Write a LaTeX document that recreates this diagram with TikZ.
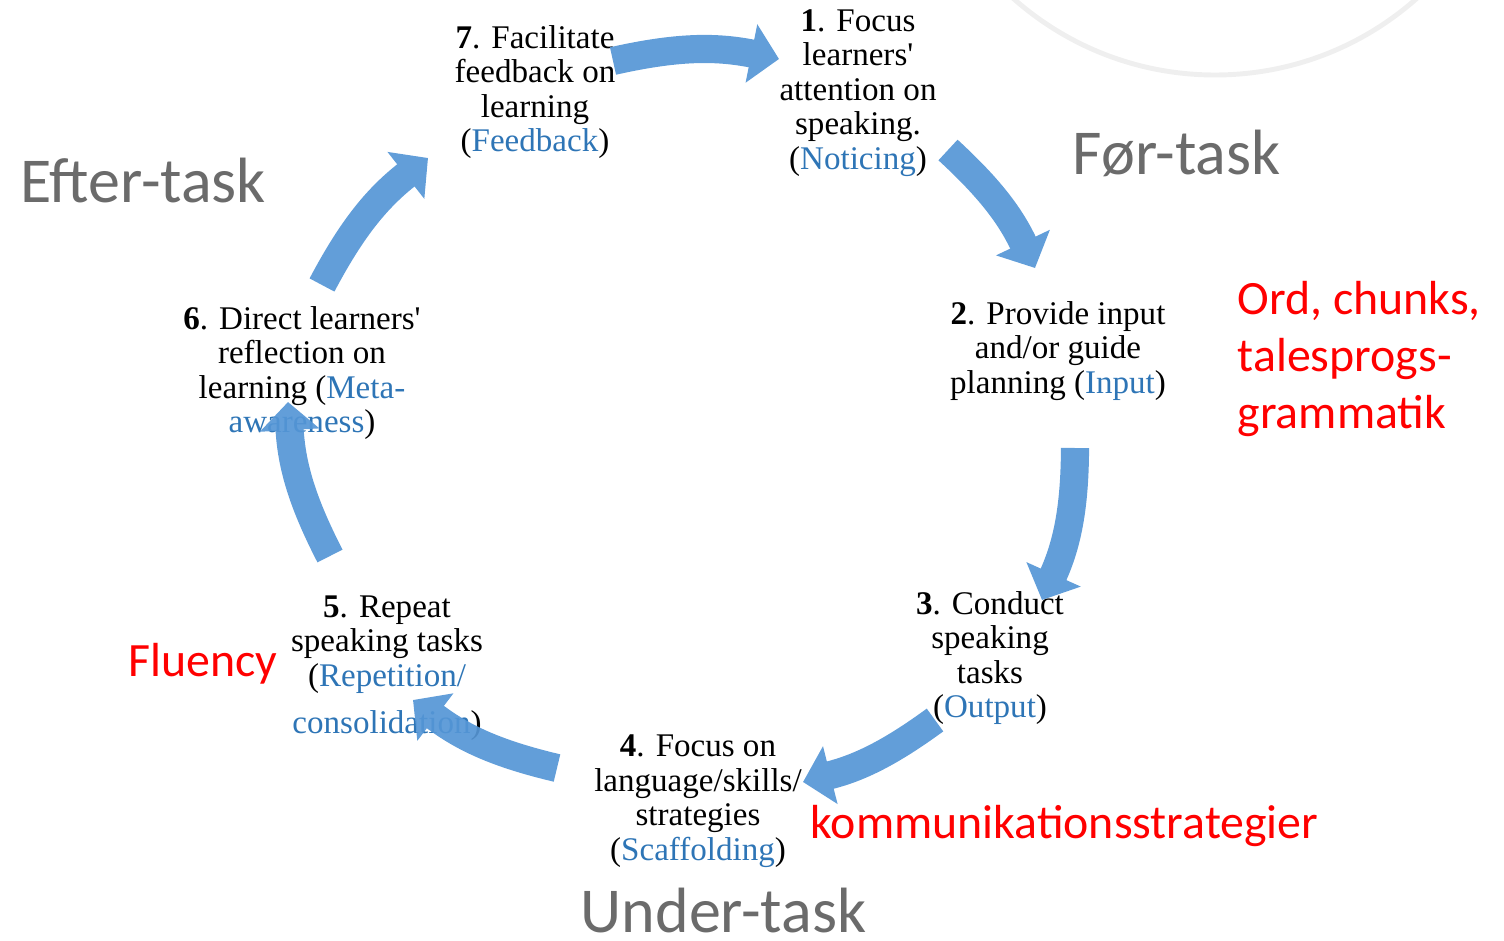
\documentclass[tikz,border=0pt]{standalone}
\usepackage{fontspec}
\usetikzlibrary{arrows.meta}
\newfontfamily\stepFont{Liberation Serif}
\newfontfamily\slideFont{Carlito}
\newcommand{\arrowOpacity}[0]{0.92}
\newcommand{\taskLabel}[1]{\textcolor{stepblue}{#1}}
\definecolor{stepblue}{HTML}{2E75B6}
\definecolor{arrowblue}{HTML}{5596D6}
\definecolor{phasegray}{HTML}{6B6B6B}
\definecolor{ringgray}{HTML}{EFEFEF}

\begin{document}
\begin{tikzpicture}[x=0.01cm, y=-0.01cm]
  \tikzset{
    stage/.style={align=center, inner sep=0pt, font=\stepFont\fontsize{9.4}{9.8}\selectfont},
    phase/.style={anchor=base west, inner sep=0pt, text=phasegray, font=\slideFont\fontsize{18.2}{21}\selectfont},
    note/.style={anchor=base west, inner sep=0pt, align=left, text=red, font=\slideFont\fontsize{13.6}{16.2}\selectfont},
    cycle arrow/.style={arrowblue, line width=8pt, -{Triangle[length=8pt, width=16.5pt]}}
  }
  \useasboundingbox (0,0) rectangle (1504,940);
  \begin{scope}
    \clip (0,0) rectangle (1504,940);
    \draw[ringgray, line width=1.4pt] (1215,-229) circle [radius=304];
  \end{scope}
  % the seven steps
  \node[stage] (stage-7) at (535,92) {\textbf{7}. Facilitate\\feedback on\\learning\\(\taskLabel{Feedback})};
  \node[stage] (stage-1) at (858,93) {\textbf{1}. Focus\\learners\textquotesingle\\attention on\\speaking.\\(\taskLabel{Noticing})};
  \node[stage] (stage-2) at (1058,351) {\textbf{2}. Provide input\\and/or guide\\planning (\taskLabel{Input})};
  \node[stage] (stage-3) at (990,658) {\textbf{3}. Conduct\\speaking\\tasks\\(\taskLabel{Output})};
  \node[stage] (stage-4) at (698,801) {\textbf{4}. Focus on\\language/skills/\\strategies\\(\taskLabel{Scaffolding})};
  \node[stage] (stage-5) at (387,668) {\textbf{5}. Repeat\\speaking tasks\\(\taskLabel{Repetition/}\\[3.7pt]\taskLabel{consolidation})};
  \node[stage] (stage-6) at (302,373) {\textbf{6}. Direct learners\textquotesingle\\reflection on\\learning (\taskLabel{Meta-}\\\taskLabel{awareness})};
  % phases and notes
  \node[phase] (phase-after) at (20,203) {Efter-task};
  \node[phase] (phase-before) at (1072,175) {Før-task};
  \node[phase] (phase-during) at (580,932) {Under-task};
  \node[note, anchor=north west] (note-input) at (1237,281) {Ord, chunks,\\talesprogs-\\grammatik};
  \node[note] (note-repeat) at (128,676) {Fluency};
  \node[note] (note-scaffold) at (810,838) {kommunikationsstrategier};
  % arrow ends
  \coordinate (tail-7) at (613,61);
  \coordinate (tip-1) at (779,59);
  \coordinate (tail-1) at (948,150);
  \coordinate (tip-2) at (1035,268);
  \coordinate (tail-2) at (1075,448);
  \coordinate (tip-3) at (1042,600);
  \coordinate (tail-3) at (935,720);
  \coordinate (tip-4) at (803,782);
  \coordinate (tail-4) at (557,768);
  \coordinate (tip-5) at (413,700);
  \coordinate (tail-5) at (330,556);
  \coordinate (tip-6) at (288,402);
  \coordinate (tail-6) at (322,285);
  \coordinate (tip-7) at (428,158);
  \begin{scope}[transparency group, opacity=\arrowOpacity]
    \draw[cycle arrow] (tail-7) to[bend left=12] (tip-1);
    \draw[cycle arrow] (tail-1) to[bend left=11] (tip-2);
    \draw[cycle arrow] (tail-2) to[bend left=12] (tip-3);
    \draw[cycle arrow] (tail-3) to[bend left=11] (tip-4);
    \draw[cycle arrow] (tail-4) to[bend left=12] (tip-5);
    \draw[cycle arrow] (tail-5) to[bend left=12] (tip-6);
    \draw[cycle arrow] (tail-6) to[bend left=12] (tip-7);
  \end{scope}
\end{tikzpicture}
\end{document}
